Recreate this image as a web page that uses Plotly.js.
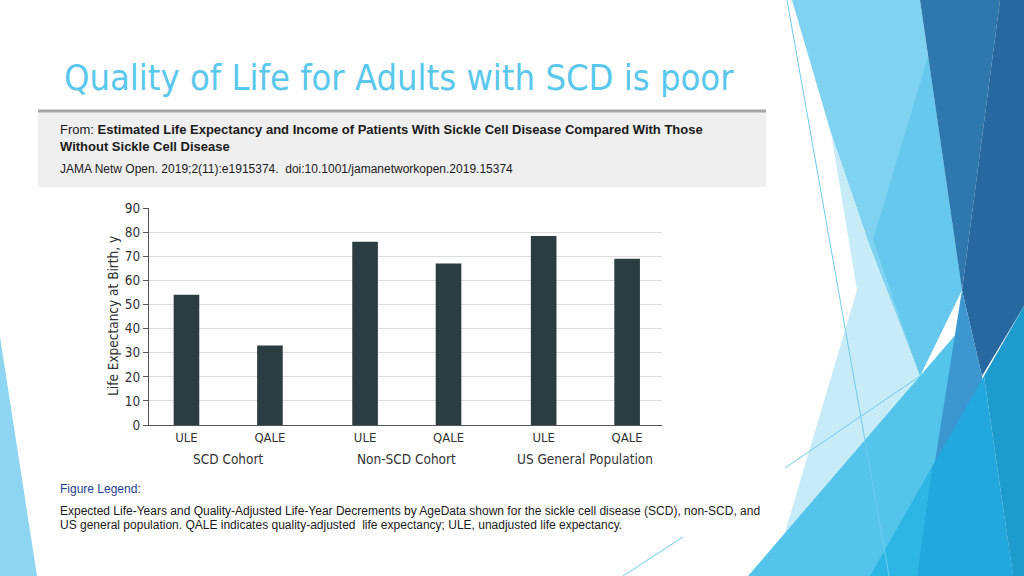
<!DOCTYPE html>
<html>
<head>
<meta charset="utf-8">
<script src="https://cdn.plot.ly/plotly-3.0.1.min.js"></script>
<style>html,body{margin:0;padding:0;background:#fff;}#chart{width:1024px;height:576px;}</style>
</head>
<body>
<div id="chart"></div>
<script>
// ---- data ----
const groups = ['SCD Cohort', 'Non-SCD Cohort', 'US General Population'];
const measures = ['ULE', 'QALE'];
const ule = [54, 76, 78.4];
const qale = [33, 67, 69];
const yTitle = 'Life Expectancy at Birth, y';
const slideTitle = 'Quality of Life for Adults with SCD is poor';
const sourceTitle = 'Estimated Life Expectancy and Income of Patients With Sickle Cell Disease Compared With Those';
const sourceTitle2 = 'Without Sickle Cell Disease';
const citation = 'JAMA Netw Open. 2019;2(11):e1915374.  doi:10.1001/jamanetworkopen.2019.15374';
const legendHead = 'Figure Legend';
const legendLine1 = 'Expected Life-Years and Quality-Adjusted Life-Year Decrements by AgeData shown for the sickle cell disease (SCD), non-SCD, and';
const legendLine2 = 'US general population. QALE indicates quality-adjusted  life expectancy; ULE, unadjusted life expectancy.';

// ---- layout helpers ----
const L = 149, R = 662, T = 208, B = 425;
const px = x => (x - L) / (R - L);
const py = y => (B - y) / (B - T);
const poly = pts => 'M' + pts.map(p => px(p[0]).toFixed(4) + ',' + py(p[1]).toFixed(4)).join('L') + 'Z';
const groupStep = 2.14;
const pos = (g, m) => g * groupStep + m;

const narrow = 'Liberation Sans Narrow, DejaVu Sans Condensed, sans-serif';
const arial = 'Liberation Sans, Arial, sans-serif';
const barColor = '#2b3d40';

const traces = measures.map((m, mi) => ({
  type: 'bar',
  name: m,
  x: groups.map((g, gi) => pos(gi, mi)),
  y: mi === 0 ? ule : qale,
  width: 0.307,
  marker: {color: barColor, line: {width: 0}},
  hoverinfo: 'x+y',
  showlegend: false
}));

const tickvals = [], ticktext = [];
groups.forEach((g, gi) => measures.forEach((m, mi) => { tickvals.push(pos(gi, mi)); ticktext.push(m); }));

// decorative slide shapes (pixel polygons)
const deco = [
  {pts: [[0,337],[0,576],[37,576]], c: '#8dd5f0'},
  {pts: [[792,0],[920,0],[962,290],[920,376],[870,247],[831,133]], c: '#7fd3f0'},
  {pts: [[831,133],[870,247],[920,376],[900,470],[772,576],[857,290]], c: '#c8ebf8'},
  {pts: [[928,57],[873,240],[920,376],[962,290]], c: '#65c8ec'},
  {pts: [[920,0],[1000,0],[962,290]], c: '#2f78ad'},
  {pts: [[1000,0],[1024,0],[1024,306],[982,376],[962,290]], c: '#2868a0'},
  {pts: [[748,576],[957,333],[917,576]], c: '#55c4ea'},
  {pts: [[962,290],[982,376],[1013,576],[917,576]], c: '#3c96d0'},
  {pts: [[932,467],[917,576],[870,576]], c: '#2db5e4'},
  {pts: [[984,376],[1013,576],[917,576],[932,467]], c: '#22a8dd'},
  {pts: [[984,376],[1024,306],[1024,576],[1013,576]], c: '#1e9bcd'}
];
const shapes = deco.map(d => ({type: 'path', xref: 'paper', yref: 'paper', path: poly(d.pts), fillcolor: d.c, line: {width: 0}, layer: 'below'}));
const lines = [[787,0,889,576],[785,468,920,376],[623,576,683,537]];
lines.forEach(l => shapes.push({type: 'line', xref: 'paper', yref: 'paper', x0: px(l[0]), y0: py(l[1]), x1: px(l[2]), y1: py(l[3]), line: {color: '#6ccdee', width: 1}, layer: 'below'}));
// grey source box
shapes.push({type: 'rect', xref: 'paper', yref: 'paper', x0: px(38), x1: px(766), y0: py(187), y1: py(112), fillcolor: '#efefef', line: {width: 0}, layer: 'below'});
shapes.push({type: 'line', xref: 'paper', yref: 'paper', x0: px(38), x1: px(766), y0: py(111), y1: py(111), line: {color: '#a6a6a6', width: 3}, layer: 'below'});

const ann = (text, x, y, size, opts) => Object.assign({xref: 'paper', yref: 'paper', x: px(x), y: py(y), xanchor: 'left', yanchor: 'middle', showarrow: false, text: text, align: 'left', font: {family: arial, size: size, color: '#1a1a1a'}}, opts || {});

const annotations = [
  ann(slideTitle, 62, 77, 36, {font: {family: 'DejaVu Sans Condensed, DejaVu Sans, sans-serif', size: 36, color: '#5ac7ec'}}),
  ann('From: <b>' + sourceTitle + '</b><br><b>' + sourceTitle2 + '</b>', 58, 138, 13),
  ann(citation, 58, 169, 12),
  ann('<span style="color:#1f3f8f">' + legendHead + '</span>:', 58, 489, 12),
  ann(legendLine1, 58, 511, 12),
  ann(legendLine2, 58, 525, 12),
  {xref: 'paper', yref: 'paper', x: px(113), y: py(316), xanchor: 'center', yanchor: 'middle', textangle: -90, showarrow: false, text: yTitle, font: {family: narrow, size: 13.5, color: '#333'}}
];
groups.forEach((g, gi) => annotations.push({xref: 'x', yref: 'paper', x: pos(gi, 0.5), y: py(459), xanchor: 'center', yanchor: 'middle', showarrow: false, text: g, font: {family: narrow, size: 13.5, color: '#333'}}));

const layout = {
  width: 1024, height: 576,
  margin: {l: L, r: 1024 - R, t: T, b: 576 - B, pad: 0},
  paper_bgcolor: '#ffffff', plot_bgcolor: 'rgba(0,0,0,0)',
  showlegend: false,
  xaxis: {range: [-0.449, 5.698], tickvals: tickvals, ticktext: ticktext, showgrid: false, zeroline: false, showline: true, linecolor: '#555', linewidth: 1, ticks: '', tickfont: {family: narrow, size: 13, color: '#333'}, fixedrange: true},
  yaxis: {range: [0, 90], tick0: 0, dtick: 10, showgrid: true, gridcolor: '#dcdcdc', gridwidth: 1, zeroline: false, showline: true, linecolor: '#555', linewidth: 1, ticks: 'outside', ticklen: 5, tickcolor: '#555', tickfont: {family: narrow, size: 13.5, color: '#333'}, fixedrange: true},
  shapes: shapes,
  annotations: annotations
};

Plotly.newPlot('chart', traces, layout, {displayModeBar: false, staticPlot: true});
</script>
</body>
</html>
